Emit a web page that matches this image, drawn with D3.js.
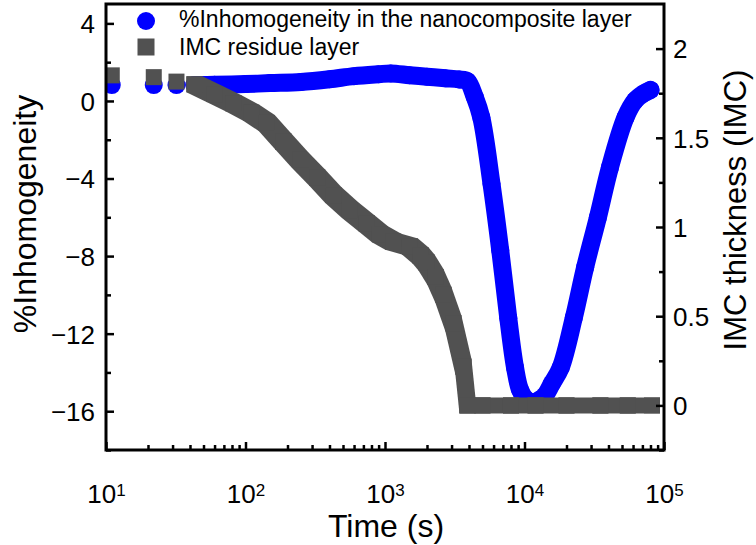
<!DOCTYPE html>
<html>
<head>
<meta charset="utf-8">
<script src="https://cdn.jsdelivr.net/npm/d3@7/dist/d3.min.js"></script>
<style>
  body { margin: 0; background: #fff; }
  svg text { font-family: "Liberation Sans", Arial, sans-serif; fill: #000; }
</style>
</head>
<body>
<svg id="chart" width="756" height="545"></svg>
<script>
// %Inhomogeneity in the nanocomposite layer (left axis)
const inhomTime  = [11, 22, 32, 43, 60, 100, 150, 250, 400, 600, 900, 1100, 1500, 2000, 2700, 3400, 3900,
                    4400, 4900, 5800, 6700, 7650, 8550, 9300, 10300, 11500, 12900, 14000, 15700, 18200, 22600,
                    27200, 33600, 41000, 53000, 62000, 72000, 80000];
const inhomValue = [0.82, 0.82, 0.82, 0.82, 0.83, 0.87, 0.92, 0.98, 1.12, 1.28, 1.38, 1.42, 1.33, 1.25, 1.17, 1.11, 1.02,
                    0.2, -0.85, -4.27, -7.7, -11.2, -13.74, -14.9, -15.4, -15.55, -15.4, -15.2, -14.58, -13.74, -11.16,
                    -8.58, -6.0, -3.42, -0.85, 0.02, 0.4, 0.57];

// IMC residue layer thickness (right axis)
const imcTime  = [11, 22, 32, 43, 60, 82, 110, 142, 186, 246, 326, 426, 561, 740, 920, 1146, 1510, 1800, 1990,
                  2300, 2620, 3090, 3650, 3900, 5000, 8000, 12000, 20000, 35000, 55000, 82000];
const imcValue = [1.85, 1.84, 1.815, 1.80, 1.745, 1.693, 1.64, 1.583, 1.48, 1.376, 1.277, 1.179, 1.095, 1.02, 0.96,
                  0.918, 0.89, 0.84, 0.80, 0.72, 0.62, 0.46, 0.217, 0, 0, 0, 0, 0, 0, 0, 0];

// the first samples sit apart; from the fourth one on they run together
const sparseCount = 3;

const leftTicks = [-16, -12, -8, -4, 0, 4];
const leftMinorTicks = [-18, -14, -10, -6, -2, 2];
const rightTicks = [0, 0.5, 1, 1.5, 2];
const rightMinorTicks = [-0.25, 0.25, 0.75, 1.25, 1.75];
const timeTicks = [1e1, 1e2, 1e3, 1e4, 1e5];
const timeTickExponents = ["1", "2", "3", "4", "5"];
const timeMinorTicks = [];
[1e1, 1e2, 1e3, 1e4].forEach(d => { for (let k = 2; k <= 9; k++) timeMinorTicks.push(d * k); });

const legendLabels = ["%Inhomogeneity in the nanocomposite layer", "IMC residue layer"];
const xTitle = "Time (s)";
const yLeftTitle = "%Inhomogeneity";
const yRightTitle = "IMC thickness (IMC)";

const blue = "#0000ff";
const grey = "#515151";

const svg = d3.select("#chart");
const plot = { left: 106, right: 664, top: 4, bottom: 450 };

const x = d3.scaleLog().domain([10, 1e5]).range([plot.left, plot.right]);
const yL = d3.scaleLinear().domain([-18, 5]).range([plot.bottom, plot.top]);
const yR = d3.scaleLinear().domain([-0.25, 2.25]).range([plot.bottom, plot.top]);

svg.append("defs").append("clipPath").attr("id", "plotClip")
  .append("rect").attr("x", plot.left).attr("y", plot.top)
  .attr("width", plot.right - plot.left).attr("height", plot.bottom - plot.top);

const dataG = svg.append("g").attr("clip-path", "url(#plotClip)");

// ---- %Inhomogeneity: dense circles form a round-edged band ----
const rCircle = 9;
const inhom = inhomTime.map((t, i) => ({ t, v: inhomValue[i] }));
const inhomLine = d3.line().x(d => x(d.t)).y(d => yL(d.v)).curve(d3.curveCatmullRom.alpha(0.5));
dataG.append("path")
  .datum(inhom.slice(sparseCount))
  .attr("d", inhomLine)
  .attr("fill", "none")
  .attr("stroke", blue)
  .attr("stroke-width", rCircle * 2)
  .attr("stroke-linejoin", "round")
  .attr("stroke-linecap", "round");
dataG.selectAll("circle.inhom").data(inhom).join("circle")
  .attr("class", "inhom")
  .attr("cx", d => x(d.t)).attr("cy", d => yL(d.v)).attr("r", rCircle)
  .attr("fill", blue);

// ---- IMC residue: dense squares, swept square outline between samples ----
const sq = 16;
const imc = imcTime.map((t, i) => ({ t, v: imcValue[i] }));
const corners = p => {
  const cx = x(p.t), cy = yR(p.v), h = sq / 2;
  return [[cx - h, cy - h], [cx + h, cy - h], [cx + h, cy + h], [cx - h, cy + h]];
};
const imcBand = imc.slice(sparseCount);
const sweeps = d3.range(imcBand.length - 1).map(i =>
  d3.polygonHull(corners(imcBand[i]).concat(corners(imcBand[i + 1]))));
dataG.selectAll("path.imcSweep").data(sweeps).join("path")
  .attr("class", "imcSweep")
  .attr("d", d => "M" + d.join("L") + "Z")
  .attr("fill", grey);
dataG.selectAll("rect.imc").data(imc).join("rect")
  .attr("class", "imc")
  .attr("x", d => x(d.t) - sq / 2).attr("y", d => yR(d.v) - sq / 2)
  .attr("width", sq).attr("height", sq)
  .attr("fill", grey);

// ---- axes (ticks point inward) ----
const tickFont = 26;
function styleAxis(g) {
  g.select(".domain").remove();
  g.selectAll(".tick line").attr("stroke", "#000").attr("stroke-width", 2.5);
  g.attr("font-size", tickFont).attr("font-family", null);
}

svg.append("g").attr("transform", `translate(${plot.left},0)`)
  .call(d3.axisLeft(yL).tickValues(leftTicks).tickSize(-8).tickPadding(11)
    .tickFormat(d3.format("d")))
  .call(styleAxis)
  .selectAll("text").attr("dy", "0.36em");
svg.append("g").attr("transform", `translate(${plot.left},0)`)
  .call(d3.axisLeft(yL).tickValues(leftMinorTicks).tickSize(-5).tickFormat(""))
  .call(styleAxis);

svg.append("g").attr("transform", `translate(${plot.right},0)`)
  .call(d3.axisRight(yR).tickValues(rightTicks).tickSize(-8).tickPadding(9)
    .tickFormat(d3.format("")))
  .call(styleAxis)
  .selectAll("text").attr("dy", "0.36em");
svg.append("g").attr("transform", `translate(${plot.right},0)`)
  .call(d3.axisRight(yR).tickValues(rightMinorTicks).tickSize(-5).tickFormat(""))
  .call(styleAxis);

const xAxisG = svg.append("g").attr("transform", `translate(0,${plot.bottom})`)
  .call(d3.axisBottom(x).tickValues(timeTicks).tickSize(-8).tickPadding(35).tickFormat(""))
  .call(styleAxis);
xAxisG.selectAll(".tick text")
  .attr("dy", "0.71em")
  .each(function(d, i) {
    const t = d3.select(this);
    t.append("tspan").text("10");
    t.append("tspan").attr("dy", "-0.45em").attr("font-size", 17).text(timeTickExponents[i]);
  });
svg.append("g").attr("transform", `translate(0,${plot.bottom})`)
  .call(d3.axisBottom(x).tickValues(timeMinorTicks).tickSize(-5).tickFormat(""))
  .call(styleAxis);

// frame
svg.append("rect")
  .attr("x", plot.left).attr("y", plot.top)
  .attr("width", plot.right - plot.left).attr("height", plot.bottom - plot.top)
  .attr("fill", "none").attr("stroke", "#000").attr("stroke-width", 3);

// ---- axis titles ----
svg.append("text")
  .attr("x", (plot.left + plot.right) / 2 + 1).attr("y", 537)
  .attr("text-anchor", "middle").attr("font-size", 32)
  .text(xTitle);
svg.append("text")
  .attr("transform", "translate(36,214) rotate(-90)")
  .attr("text-anchor", "middle").attr("font-size", 32)
  .text(yLeftTitle);
svg.append("text")
  .attr("transform", "translate(746,210) rotate(-90)")
  .attr("text-anchor", "middle").attr("font-size", 31)
  .text(yRightTitle);

// ---- legend ----
const legend = svg.append("g");
legend.append("circle").attr("cx", 146).attr("cy", 21).attr("r", 9).attr("fill", blue);
legend.append("rect").attr("x", 146 - 8.5).attr("y", 47 - 8.5).attr("width", 17).attr("height", 17).attr("fill", grey);
legend.selectAll("text").data(legendLabels).join("text")
  .attr("x", 179).attr("y", (d, i) => 27 + i * 28)
  .attr("font-size", 23)
  .text(d => d);
</script>
</body>
</html>
